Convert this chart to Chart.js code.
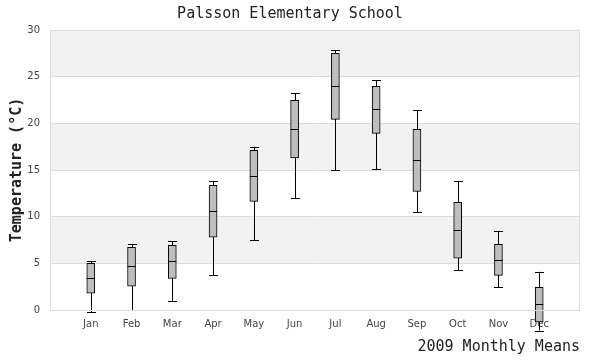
<!DOCTYPE html>
<html>
<head>
<meta charset="utf-8">
<script src="https://cdn.jsdelivr.net/npm/chart.js@4"></script>
<style>
  html, body { margin: 0; padding: 0; background: #fff; }
  #wrap { width: 600px; height: 360px; }
</style>
</head>
<body>
<div id="wrap"><canvas id="boxChart"></canvas></div>
<script>
const months = ['Jan', 'Feb', 'Mar', 'Apr', 'May', 'Jun', 'Jul', 'Aug', 'Sep', 'Oct', 'Nov', 'Dec'];
// five number summary per month
const lowWhisker  = [-0.25, 0.0, 0.93, 3.71, 7.46, 11.96, 14.96, 15.07, 10.46, 4.25, 2.43, -2.21];
const lowerQuart  = [1.79, 2.54, 3.39, 7.79, 11.64, 16.29, 20.43, 18.93, 12.71, 5.54, 3.71, -1.29];
const medians     = [3.39, 4.68, 5.25, 10.57, 14.36, 19.39, 23.96, 21.5, 16.04, 8.54, 5.32, 0.64];
const upperQuart  = [5.0, 6.71, 6.93, 13.36, 17.1, 22.46, 27.5, 23.96, 19.36, 11.54, 7.04, 2.43];
const highWhisker = [5.2, 7.04, 7.36, 13.79, 17.5, 23.25, 27.82, 24.6, 21.39, 13.79, 8.43, 4.1];
const yTicks = [0, 5, 10, 15, 20, 25, 30];

const monoFont = "'DejaVu Sans Mono', 'Liberation Mono', monospace";
const sansFont = "'DejaVu Sans', sans-serif";

// alternate shaded bands + outline of plot area
const bandsPlugin = {
  id: 'bands',
  beforeDraw(chart) {
    const { ctx, chartArea, scales } = chart;
    ctx.save();
    ctx.fillStyle = '#f2f2f2';
    for (let i = 1; i < yTicks.length - 1; i += 2) {
      const top = scales.y.getPixelForValue(yTicks[i + 1]);
      const bot = scales.y.getPixelForValue(yTicks[i]);
      ctx.fillRect(chartArea.left, top, chartArea.right - chartArea.left, bot - top);
    }
    ctx.restore();
  },
  afterDraw(chart) {
    const { ctx, chartArea } = chart;
    ctx.save();
    ctx.strokeStyle = '#dcdcdc';
    ctx.lineWidth = 1;
    ctx.strokeRect(chartArea.left + 0.5, chartArea.top + 0.5, chartArea.right - chartArea.left - 1, chartArea.bottom - chartArea.top);
    ctx.restore();
  }
};

// whiskers under the boxes, median lines over them
const whiskerPlugin = {
  id: 'whiskers',
  beforeDatasetsDraw(chart) {
    const { ctx, scales } = chart;
    ctx.save();
    ctx.strokeStyle = '#000';
    ctx.lineWidth = 1;
    months.forEach((m, i) => {
      const x = Math.round(scales.x.getPixelForValue(i + 1)) + 0.5;
      const yLo = scales.y.getPixelForValue(lowWhisker[i]);
      const yHi = scales.y.getPixelForValue(highWhisker[i]);
      ctx.beginPath();
      ctx.moveTo(x, yLo);
      ctx.lineTo(x, yHi);
      [yLo, yHi].forEach(y => {
        const yy = Math.round(y) + 0.5;
        ctx.moveTo(x - 4.5, yy);
        ctx.lineTo(x + 4.5, yy);
      });
      ctx.stroke();
    });
    ctx.restore();
  },
  afterDatasetsDraw(chart) {
    const { ctx, scales } = chart;
    ctx.save();
    ctx.strokeStyle = '#000';
    ctx.lineWidth = 1;
    months.forEach((m, i) => {
      const x = scales.x.getPixelForValue(i + 1);
      const y = Math.round(scales.y.getPixelForValue(medians[i])) + 0.5;
      ctx.beginPath();
      ctx.moveTo(x - 4, y);
      ctx.lineTo(x + 4, y);
      ctx.stroke();
    });
    ctx.restore();
  }
};

const boxData = months.map((m, i) => ({ x: i + 1, y: [lowerQuart[i], upperQuart[i]] }));

new Chart(document.getElementById('boxChart'), {
  type: 'bar',
  data: {
    datasets: [{
      data: boxData,
      backgroundColor: '#bebebe',
      borderColor: '#000',
      borderWidth: 1,
      borderSkipped: false,
      barThickness: 8,
      clip: false
    }]
  },
  plugins: [bandsPlugin, whiskerPlugin],
  options: {
    responsive: true,
    maintainAspectRatio: false,
    animation: false,
    layout: { padding: { left: 0, right: 20, top: 0, bottom: 0 } },
    plugins: {
      legend: { display: false },
      tooltip: { enabled: false },
      title: {
        display: true,
        text: 'Palsson Elementary School',
        color: '#222',
        font: { family: monoFont, size: 15, weight: 'normal', lineHeight: 1.2 },
        padding: { top: 5, bottom: 7 }
      }
    },
    scales: {
      x: {
        type: 'linear',
        offset: false,
        min: 0,
        max: 13,
        afterFit(scale) { scale.height = 50; },
        afterBuildTicks(scale) {
          scale.ticks = months.map((m, i) => ({ value: i + 1 }));
        },
        ticks: {
          autoSkip: false,
          maxRotation: 0,
          padding: 8,
          color: '#444',
          font: { family: sansFont, size: 10 },
          callback: (v) => months[v - 1] || ''
        },
        grid: { display: false, drawTicks: false, offset: false },
        border: { display: true, color: '#dcdcdc' },
        title: {
          display: true,
          text: '2009 Monthly Means',
          align: 'end',
          color: '#222',
          font: { family: monoFont, size: 15, lineHeight: 1.2 },
          padding: { top: 0, bottom: 4 }
        }
      },
      y: {
        min: 0,
        max: 30,
        afterFit(scale) { scale.width = 50; },
        afterBuildTicks(scale) {
          scale.ticks = yTicks.map(v => ({ value: v }));
        },
        ticks: {
          padding: 10,
          color: '#444',
          font: { family: sansFont, size: 10 }
        },
        grid: { color: '#dcdcdc', drawTicks: false },
        border: { display: true, color: '#dcdcdc' },
        title: {
          display: true,
          text: 'Temperature (°C)',
          color: '#222',
          font: { family: monoFont, size: 15, weight: 'bold', lineHeight: 1.2 },
          padding: { top: 8, bottom: 0 }
        }
      }
    }
  }
});
</script>
</body>
</html>
